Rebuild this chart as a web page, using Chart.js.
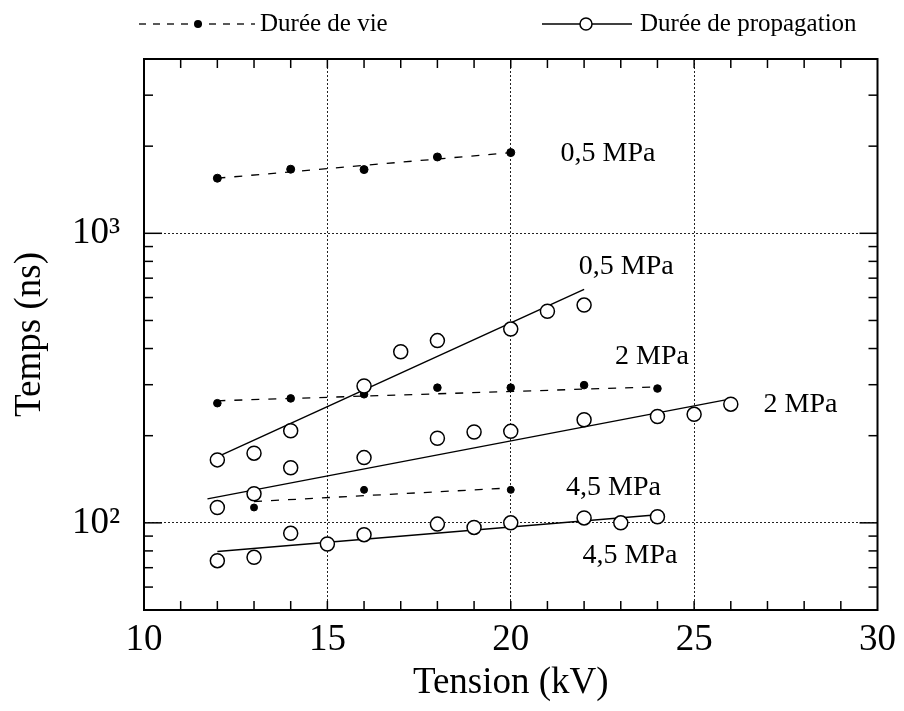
<!DOCTYPE html>
<html>
<head>
<meta charset="utf-8">
<script src="https://cdn.jsdelivr.net/npm/chart.js@4.4.0/dist/chart.umd.min.js"></script>
<style>
  html, body { margin: 0; padding: 0; background: #fff; }
  #wrap { width: 904px; height: 711px; }
</style>
</head>
<body>
<div id="wrap"><canvas id="chart" width="904" height="711"></canvas></div>
<script>
// Durée de vie (filled dots)
const tensionVie05 = [12, 14, 16, 18, 20];
const vie05 = [1550, 1665, 1660, 1835, 1900];
const tensionVie2 = [12, 14, 16, 18, 20, 22, 24];
const vie2 = [259, 269, 278, 293, 293, 299, 291];
const tensionVie45 = [13, 16, 20];
const vie45 = [113, 130, 130];

// Durée de propagation (open circles)
const tensionProp05 = [12, 13, 14, 16, 17, 18, 20, 21, 22];
const prop05 = [165, 174, 208, 297, 390, 426, 467, 538, 565];
const tensionProp2 = [12, 13, 14, 16, 18, 19, 20, 22, 24, 25, 26];
const prop2 = [113, 126, 155, 168, 196, 206, 207, 227, 233, 237, 257];
const tensionProp45 = [12, 13, 14, 15, 16, 18, 19, 20, 22, 23, 24];
const prop45 = [74, 76, 92, 84.5, 91, 99, 96.4, 100, 104, 100, 105];

// fitted lines, end points
const fitVie05X = [12, 20], fitVie05Y = [1550, 1900];
const fitVie2X = [12, 24], fitVie2Y = [264, 295];
const fitVie45X = [13, 20], fitVie45Y = [118.5, 132];
const fitProp05X = [12, 22], fitProp05Y = [169, 640];
const fitProp2X = [11.73, 26], fitProp2Y = [121, 268];
const fitProp45X = [12, 24], fitProp45Y = [79.6, 106.6];

// axes
const xTicks = [10, 15, 20, 25, 30];
const xGridAt = [15, 20, 25];
const xMinorTicks = [11, 12, 13, 14, 15, 16, 17, 18, 19, 20, 21, 22, 23, 24, 25, 26, 27, 28, 29];
const yTicks = [100, 1000];
const yTickLabels = ["10²", "10³"];
const yMinorTicks = [50, 60, 70, 80, 90, 100, 200, 300, 400, 500, 600, 700, 800, 900, 1000, 2000, 3000, 4000];

// pressure labels
const pressureText = ["0,5 MPa", "0,5 MPa", "2 MPa", "2 MPa", "4,5 MPa", "4,5 MPa"];
const pressureX = [22.65, 23.15, 23.85, 27.9, 22.8, 23.25];
const pressureY = [1888, 765, 374, 257, 132, 77];

const serif = "'Liberation Serif', 'DejaVu Serif', serif";
const pts = (xs, ys) => xs.map((x, i) => ({ x: x, y: ys[i] }));

function fitLine(xs, ys, dashed) {
  return {
    data: pts(xs, ys),
    showLine: true,
    borderColor: "#000",
    borderWidth: dashed ? 1.3 : 1.5,
    borderDash: dashed ? [8, 9] : [],
    pointRadius: 0,
    fill: false,
    order: 2,
  };
}
function dots(xs, ys, r) {
  return {
    data: pts(xs, ys),
    showLine: false,
    pointRadius: r,
    backgroundColor: "#000",
    borderColor: "#000",
    borderWidth: 1,
    order: 1,
  };
}
function circles(xs, ys) {
  return {
    data: pts(xs, ys),
    showLine: false,
    pointRadius: 7,
    backgroundColor: "#fff",
    borderColor: "#000",
    borderWidth: 1.5,
    order: 0,
  };
}

// frame + inward tick marks
const frameTicks = {
  id: "frameTicks",
  afterDraw(chart) {
    const { ctx, chartArea: a, scales } = chart;
    const x = scales.x, y = scales.y;
    const seg = (x1, y1, x2, y2) => { ctx.beginPath(); ctx.moveTo(x1, y1); ctx.lineTo(x2, y2); ctx.stroke(); };
    ctx.save();
    ctx.strokeStyle = "#000";
    ctx.lineWidth = 1.5;
    xMinorTicks.forEach((v) => {
      const px = x.getPixelForValue(v);
      seg(px, a.bottom, px, a.bottom - 9);
      seg(px, a.top, px, a.top + 9);
    });
    yMinorTicks.forEach((v) => {
      const py = y.getPixelForValue(v);
      const len = yTicks.includes(v) ? 18 : 9;
      seg(a.left, py, a.left + len, py);
      seg(a.right, py, a.right - len, py);
    });
    ctx.lineWidth = 2;
    ctx.strokeRect(a.left, a.top, a.right - a.left, a.bottom - a.top);
    ctx.restore();
  },
};

// pressure labels next to the curves
const pressureLabels = {
  id: "pressureLabels",
  afterDatasetsDraw(chart) {
    const { ctx, scales } = chart;
    ctx.save();
    ctx.fillStyle = "#000";
    ctx.font = "28px " + serif;
    ctx.textAlign = "center";
    ctx.textBaseline = "middle";
    pressureText.forEach((t, i) => {
      ctx.fillText(t, scales.x.getPixelForValue(pressureX[i]), scales.y.getPixelForValue(pressureY[i]));
    });
    ctx.restore();
  },
};

// legend drawn by hand: dashed line with dot, solid line with circle
const topLegend = {
  id: "topLegend",
  afterDraw(chart) {
    const ctx = chart.ctx;
    const ly = 24;
    ctx.save();
    ctx.strokeStyle = "#000";
    ctx.fillStyle = "#000";
    ctx.lineWidth = 1.3;
    ctx.setLineDash([7, 7]);
    ctx.beginPath(); ctx.moveTo(139, ly); ctx.lineTo(255, ly); ctx.stroke();
    ctx.setLineDash([]);
    ctx.beginPath(); ctx.arc(198, ly, 4, 0, Math.PI * 2); ctx.fill();
    ctx.lineWidth = 1.5;
    ctx.beginPath(); ctx.moveTo(542, ly); ctx.lineTo(632, ly); ctx.stroke();
    ctx.beginPath(); ctx.arc(586, ly, 6, 0, Math.PI * 2);
    ctx.fillStyle = "#fff"; ctx.fill(); ctx.stroke();
    ctx.fillStyle = "#000";
    ctx.font = "25px " + serif;
    ctx.textBaseline = "middle";
    ctx.fillText("Durée de vie", 260, ly);
    ctx.fillText("Durée de propagation", 640, ly);
    ctx.restore();
  },
};

new Chart(document.getElementById("chart"), {
  type: "scatter",
  data: {
    datasets: [
      fitLine(fitVie05X, fitVie05Y, true),
      fitLine(fitVie2X, fitVie2Y, true),
      fitLine(fitVie45X, fitVie45Y, true),
      fitLine(fitProp05X, fitProp05Y, false),
      fitLine(fitProp2X, fitProp2Y, false),
      fitLine(fitProp45X, fitProp45Y, false),
      dots(tensionVie05, vie05, 4),
      dots(tensionVie2, vie2, 3.8),
      dots(tensionVie45, vie45, 3.5),
      circles(tensionProp05, prop05),
      circles(tensionProp2, prop2),
      circles(tensionProp45, prop45),
    ],
  },
  options: {
    responsive: false,
    animation: false,
    layout: { padding: { top: 59, right: 26, bottom: 0, left: 0 } },
    plugins: {
      legend: { display: false },
      tooltip: { enabled: false },
    },
    scales: {
      x: {
        type: "linear",
        min: 10,
        max: 30,
        afterBuildTicks: (s) => { s.ticks = xTicks.map((v) => ({ value: v })); },
        ticks: {
          color: "#000",
          font: { family: serif, size: 37 },
          padding: 8,
          maxRotation: 0,
          autoSkip: false,
        },
        grid: {
          drawTicks: false,
          lineWidth: 1,
          color: (c) => (c.tick && xGridAt.includes(c.tick.value) ? "#222" : "rgba(0,0,0,0)"),
        },
        border: { display: false, dash: [2, 2] },
        title: {
          display: true,
          text: "Tension (kV)",
          color: "#000",
          font: { family: serif, size: 37 },
          padding: { top: 0, bottom: 6 },
        },
        afterFit: (s) => { s.height = 101; },
      },
      y: {
        type: "logarithmic",
        min: 50,
        max: 4000,
        afterBuildTicks: (s) => { s.ticks = yTicks.map((v) => ({ value: v })); },
        ticks: {
          color: "#000",
          font: { family: serif, size: 37 },
          padding: 24,
          autoSkip: false,
          callback: (v) => yTickLabels[yTicks.indexOf(v)] || "",
        },
        grid: { drawTicks: false, lineWidth: 1, color: "#222" },
        border: { display: false, dash: [2, 2] },
        title: {
          display: true,
          text: "Temps (ns)",
          color: "#000",
          font: { family: serif, size: 37 },
          padding: { top: 8, bottom: 0 },
        },
        afterFit: (s) => { s.width = 144; },
      },
    },
  },
  plugins: [frameTicks, pressureLabels, topLegend],
});
</script>
</body>
</html>
